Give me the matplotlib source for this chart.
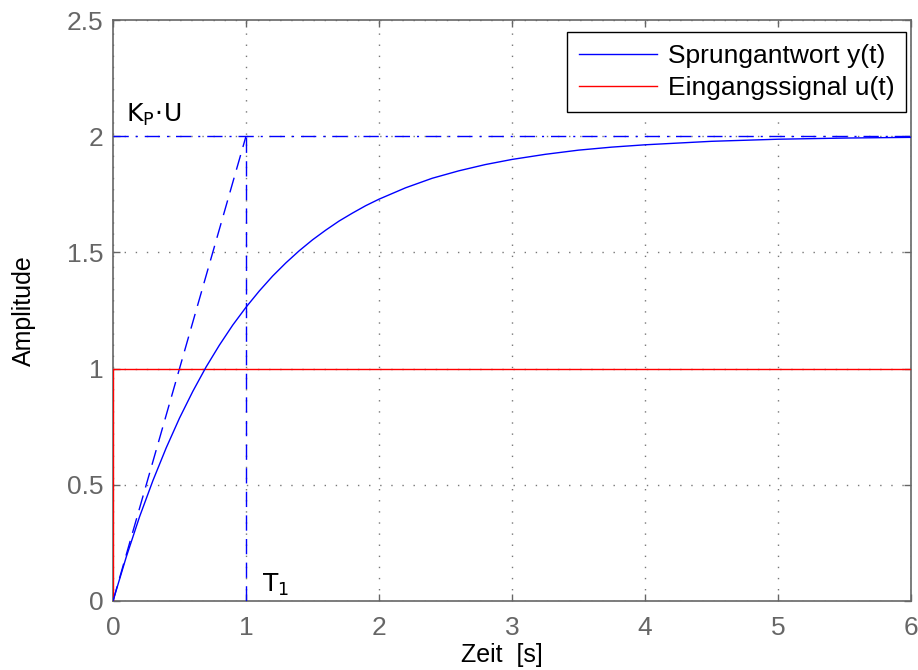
import matplotlib
matplotlib.use("Agg")
from matplotlib import pyplot as plt
from matplotlib import ticker

# step response
t_y = [0.0, 0.1, 0.2, 0.3, 0.4, 0.5, 0.6, 0.7, 0.8, 0.9, 1.0,
       1.1, 1.2, 1.3, 1.4, 1.5, 1.6, 1.7, 1.8, 1.9, 2.0,
       2.2, 2.4, 2.6, 2.8, 3.0, 3.25, 3.5, 3.75, 4.0, 4.5, 5.0, 5.5, 6.0]
y = [0.0, 0.190, 0.363, 0.518, 0.659, 0.787, 0.902, 1.007, 1.101, 1.187, 1.264,
     1.334, 1.398, 1.455, 1.507, 1.554, 1.596, 1.635, 1.669, 1.701, 1.729,
     1.778, 1.819, 1.851, 1.878, 1.900, 1.922, 1.940, 1.953, 1.963, 1.978, 1.987, 1.992, 1.995]

# input step
t_u = [0.0, 0.0, 6.0]
u = [0.0, 1.0, 1.0]

# construction lines
kpu = 2.0
t1 = 1.0

grey = '#666666'
font = 'Liberation Sans'

fig = plt.figure(figsize=(9.18, 6.7), dpi=100)
ax = fig.add_axes([113 / 918, 1 - 601 / 670, (911 - 113) / 918, (601 - 20) / 670])

ax.plot(t_y, y, color='#0000ff', lw=1.0, label='Sprungantwort y(t)', zorder=5)
ax.plot(t_u, u, color='#ff0000', lw=1.0, label='Eingangssignal u(t)', zorder=4)

ax.plot([0, 6], [kpu, kpu], color='#0000ff', lw=1.0, ls=(0, (11, 5, 1.5, 5)), zorder=3)
ax.plot([t1, t1], [0, kpu], color='#0000ff', lw=1.0, ls=(0, (11, 6)), zorder=3)
ax.plot([0, t1], [0, kpu], color='#0000ff', lw=1.0, ls=(0, (11, 6)), zorder=3)

plt.rcParams['mathtext.fontset'] = 'custom'
plt.rcParams['mathtext.rm'] = 'DejaVu Sans'
ax.text(0.1, 2.06, r'$\mathregular{K_P\!\cdot\!U}$', fontsize=18)
ax.text(1.12, 0.04, r'$\mathregular{T_1}$', fontsize=18)

ax.set_xlim(0, 6)
ax.set_ylim(0, 2.5)
ax.xaxis.set_major_locator(ticker.MultipleLocator(1))
ax.yaxis.set_major_locator(ticker.MultipleLocator(0.5))
ax.yaxis.set_major_formatter(ticker.FuncFormatter(lambda v, p: ('%g' % v)))

ax.grid(True, color='#777777', ls=(0, (1, 7)), lw=1.0)
ax.set_axisbelow(True)
ax.tick_params(direction='in', length=5, width=1, labelsize=19, colors=grey,
               top=True, right=True)
ax.tick_params(axis='x', pad=11)
ax.tick_params(axis='y', pad=7)
for lbl in ax.get_xticklabels() + ax.get_yticklabels():
    lbl.set_family(font)
for s in ax.spines.values():
    s.set_color(grey)
    s.set_linewidth(1.2)

ax.set_xlabel('Zeit  [s]', fontsize=18, family=font)
ax.xaxis.set_label_coords((502 - 113) / 798, -(667 - 601) / 581)
ax.xaxis.label.set_va('bottom')
ax.set_ylabel('Amplitude', fontsize=18, family=font, labelpad=22)

leg = ax.legend(loc='upper right', bbox_to_anchor=((906 - 113) / 798, (601 - 32) / 581),
                prop={'family': font, 'size': 19},
                fancybox=False, framealpha=1, edgecolor='black', handlelength=2.95,
                borderaxespad=0, borderpad=0.45, labelspacing=0.3, handletextpad=0.4)
leg.get_frame().set_linewidth(1.0)

fig.savefig('out.png', dpi=100)
